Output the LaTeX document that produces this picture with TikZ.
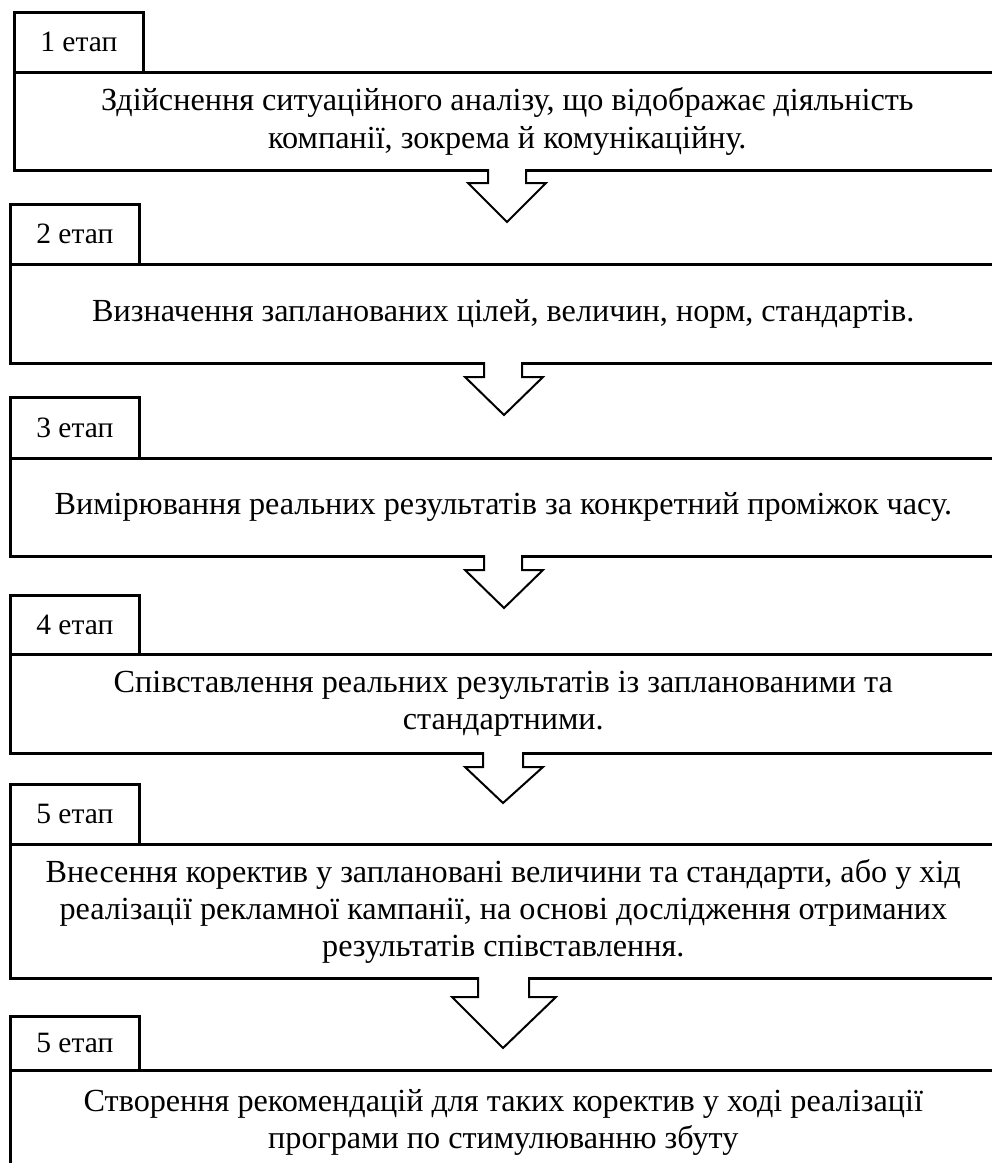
\documentclass[tikz,border=0pt]{standalone}
\usepackage{fontspec}
\setmainfont{Liberation Serif}
\newcommand{\stagearrow}[8]{%
  \fill[white] (#2,#1-2.5) -- (#2,#4) -- (#5,#4) -- (#7,#8) -- (#6,#4) -- (#3,#4) -- (#3,#1-2.5) -- cycle;
  \draw[arrowline] (#2,#1) -- (#2,#4) -- (#5,#4) -- (#7,#8) -- (#6,#4) -- (#3,#4) -- (#3,#1);
}
\begin{document}
\begin{tikzpicture}[x=1pt,y=-1pt,
  mainbox/.style={draw, line width=2.6pt, anchor=north west, inner sep=0pt,
    align=center, font=\fontsize{32.2}{37.3}\selectfont, minimum width=986pt},
  stagelab/.style={draw, line width=2.6pt, anchor=north west, inner sep=0pt,
    font=\fontsize{29.5}{34}\selectfont, minimum width=129pt},
  arrowline/.style={draw, line width=2pt, line join=miter}]
\useasboundingbox (0,0) rectangle (992,1163);
\clip (0,0) rectangle (992,1163);

% stage 1
\node[stagelab, minimum height=60pt] (l1) at (13,11) {1 етап};
\node[mainbox, minimum height=98pt] (m1) at (13,71)
  {Здійснення ситуаційного аналізу, що відображає діяльність\\компанії, зокрема й комунікаційну.};
% stage 2
\node[stagelab, minimum height=60pt] (l2) at (9,203) {2 етап};
\node[mainbox, minimum height=99pt] (m2) at (9,263)
  {Визначення запланованих цілей, величин, норм, стандартів.};
% stage 3
\node[stagelab, minimum height=61pt] (l3) at (9,396) {3 етап};
\node[mainbox, minimum height=98pt] (m3) at (9,457)
  {Вимірювання реальних результатів за конкретний проміжок часу.};
% stage 4
\node[stagelab, minimum height=59pt] (l4) at (9,594) {4 етап};
\node[mainbox, minimum height=99pt] (m4) at (9,653)
  {Співставлення реальних результатів із запланованими та\\стандартними.};
% stage 5
\node[stagelab, minimum height=60pt] (l5) at (9,783) {5 етап};
\node[mainbox, minimum height=134pt] (m5) at (9,843)
  {Внесення коректив у заплановані величини та стандарти, або у хід\\реалізації рекламної кампанії, на основі дослідження отриманих\\результатів співставлення.};
% stage 6
\node[stagelab, minimum height=54pt] (l6) at (9,1015) {5 етап};
\node[mainbox, minimum height=104pt] (m6) at (9,1069)
  {Створення рекомендацій для таких коректив у ході реалізації\\програми по стимулюванню збуту};

% block arrows
\stagearrow{169}{488}{526}{183}{468}{546}{507}{222}
\stagearrow{362}{484}{522}{377}{465}{543}{504}{415}
\stagearrow{555}{484}{522}{570}{465}{543}{504}{608}
\stagearrow{752}{483}{523}{767}{465}{543}{503}{803}
\stagearrow{977}{478}{529}{997}{452}{556}{503}{1048}
\end{tikzpicture}
\end{document}
